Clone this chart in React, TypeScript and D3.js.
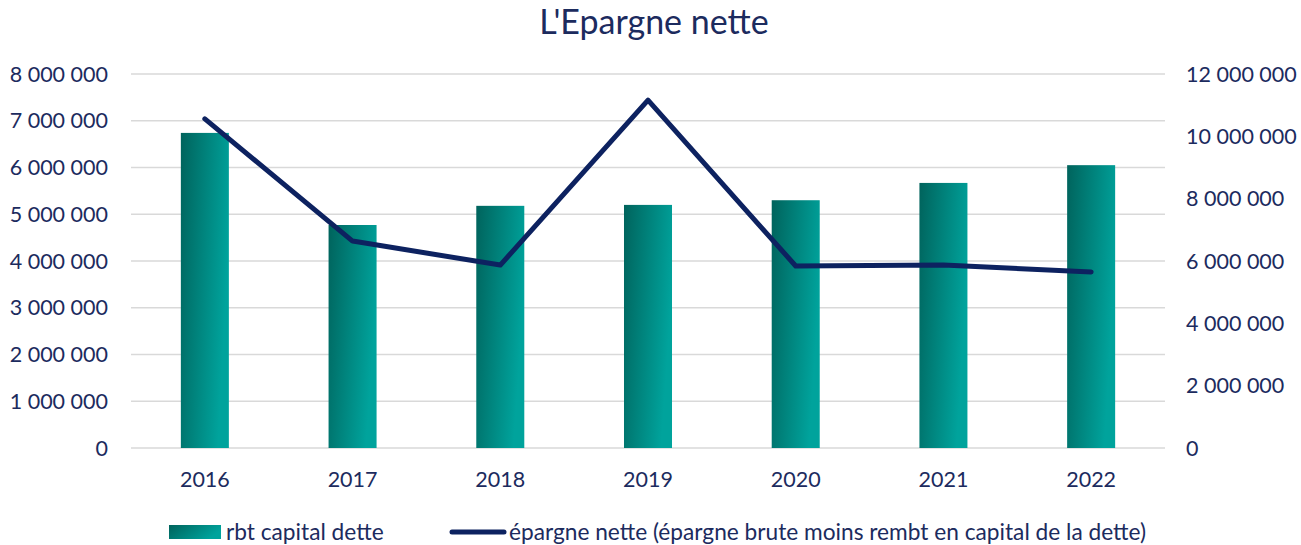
import React from "react";
import * as d3 from "d3";

const years = ["2016", "2017", "2018", "2019", "2020", "2021", "2022"];
const rbtCapital = [6740000, 4770000, 5180000, 5200000, 5300000, 5670000, 6050000];
const epargneNette = [10560000, 6640000, 5870000, 11160000, 5840000, 5870000, 5650000];
const leftTicks = [0, 1000000, 2000000, 3000000, 4000000, 5000000, 6000000, 7000000, 8000000];
const rightTicks = [0, 2000000, 4000000, 6000000, 8000000, 10000000, 12000000];
const title = "L'Epargne nette";
const legendBar = "rbt capital dette";
const legendLine = "épargne nette (épargne brute moins rembt en capital de la dette)";

const W = 1301, H = 545;
const left = 131, right = 1165, top = 74, bottom = 448;
const navy = "#0d2260";
const textColor = "#1c2b5e";
const font = "Lato, 'Open Sans', sans-serif";
const tickSize = 21.5;

const fmt = (v: number) => d3.format(",")(v).replace(/,/g, " ");

export default function App() {
  const x = d3.scaleBand<string>().domain(years).range([left, right]).paddingInner(0.675).paddingOuter(0.3375);
  const yL = d3.scaleLinear().domain([0, 8000000]).range([bottom, top]);
  const yR = d3.scaleLinear().domain([0, 12000000]).range([bottom, top]);
  const xc = (d: string) => (x(d) ?? 0) + x.bandwidth() / 2;
  const line = d3.line<number>().x((_, i) => xc(years[i])).y((v) => yR(v));

  return (
    <svg width={W} height={H} style={{ position: "absolute", left: 0, top: 0, background: "#fff" }} fontFamily={font}>
      <defs>
        <linearGradient id="barGrad" x1="0" y1="0" x2="1" y2="0.35">
          <stop offset="0" stopColor="#00635c" />
          <stop offset="1" stopColor="#00a39c" />
        </linearGradient>
      </defs>
      <text x={654} y={34} textAnchor="middle" fontSize={34} fill={textColor}>{title}</text>
      {leftTicks.map((t) => (
        <g key={"l" + t}>
          <line x1={left} x2={right} y1={yL(t)} y2={yL(t)} stroke="#d9d9d9" strokeWidth={1.5} />
          <text x={108} y={yL(t) + 7.5} textAnchor="end" fontSize={tickSize} fill={textColor}>{fmt(t)}</text>
        </g>
      ))}
      {rightTicks.map((t) => (
        <text key={"r" + t} x={1186} y={yR(t) + 7.5} textAnchor="start" fontSize={tickSize} fill={textColor}>{fmt(t)}</text>
      ))}
      {years.map((yr, i) => (
        <g key={yr}>
          <rect x={x(yr)} y={yL(rbtCapital[i])} width={x.bandwidth()} height={bottom - yL(rbtCapital[i])} fill="url(#barGrad)" />
          <text x={xc(yr)} y={487} textAnchor="middle" fontSize={tickSize} fill={textColor}>{yr}</text>
        </g>
      ))}
      <path d={line(epargneNette) ?? ""} fill="none" stroke={navy} strokeWidth={5} strokeLinejoin="round" strokeLinecap="round" />
      <rect x={169} y={525} width={52} height={14} fill="url(#barGrad)" />
      <text x={226} y={540} fontSize={22.7} fill={textColor}>{legendBar}</text>
      <line x1={452} x2={504} y1={532} y2={532} stroke={navy} strokeWidth={5} strokeLinecap="round" />
      <text x={509} y={540} fontSize={22.7} fill={textColor}>{legendLine}</text>
    </svg>
  );
}
